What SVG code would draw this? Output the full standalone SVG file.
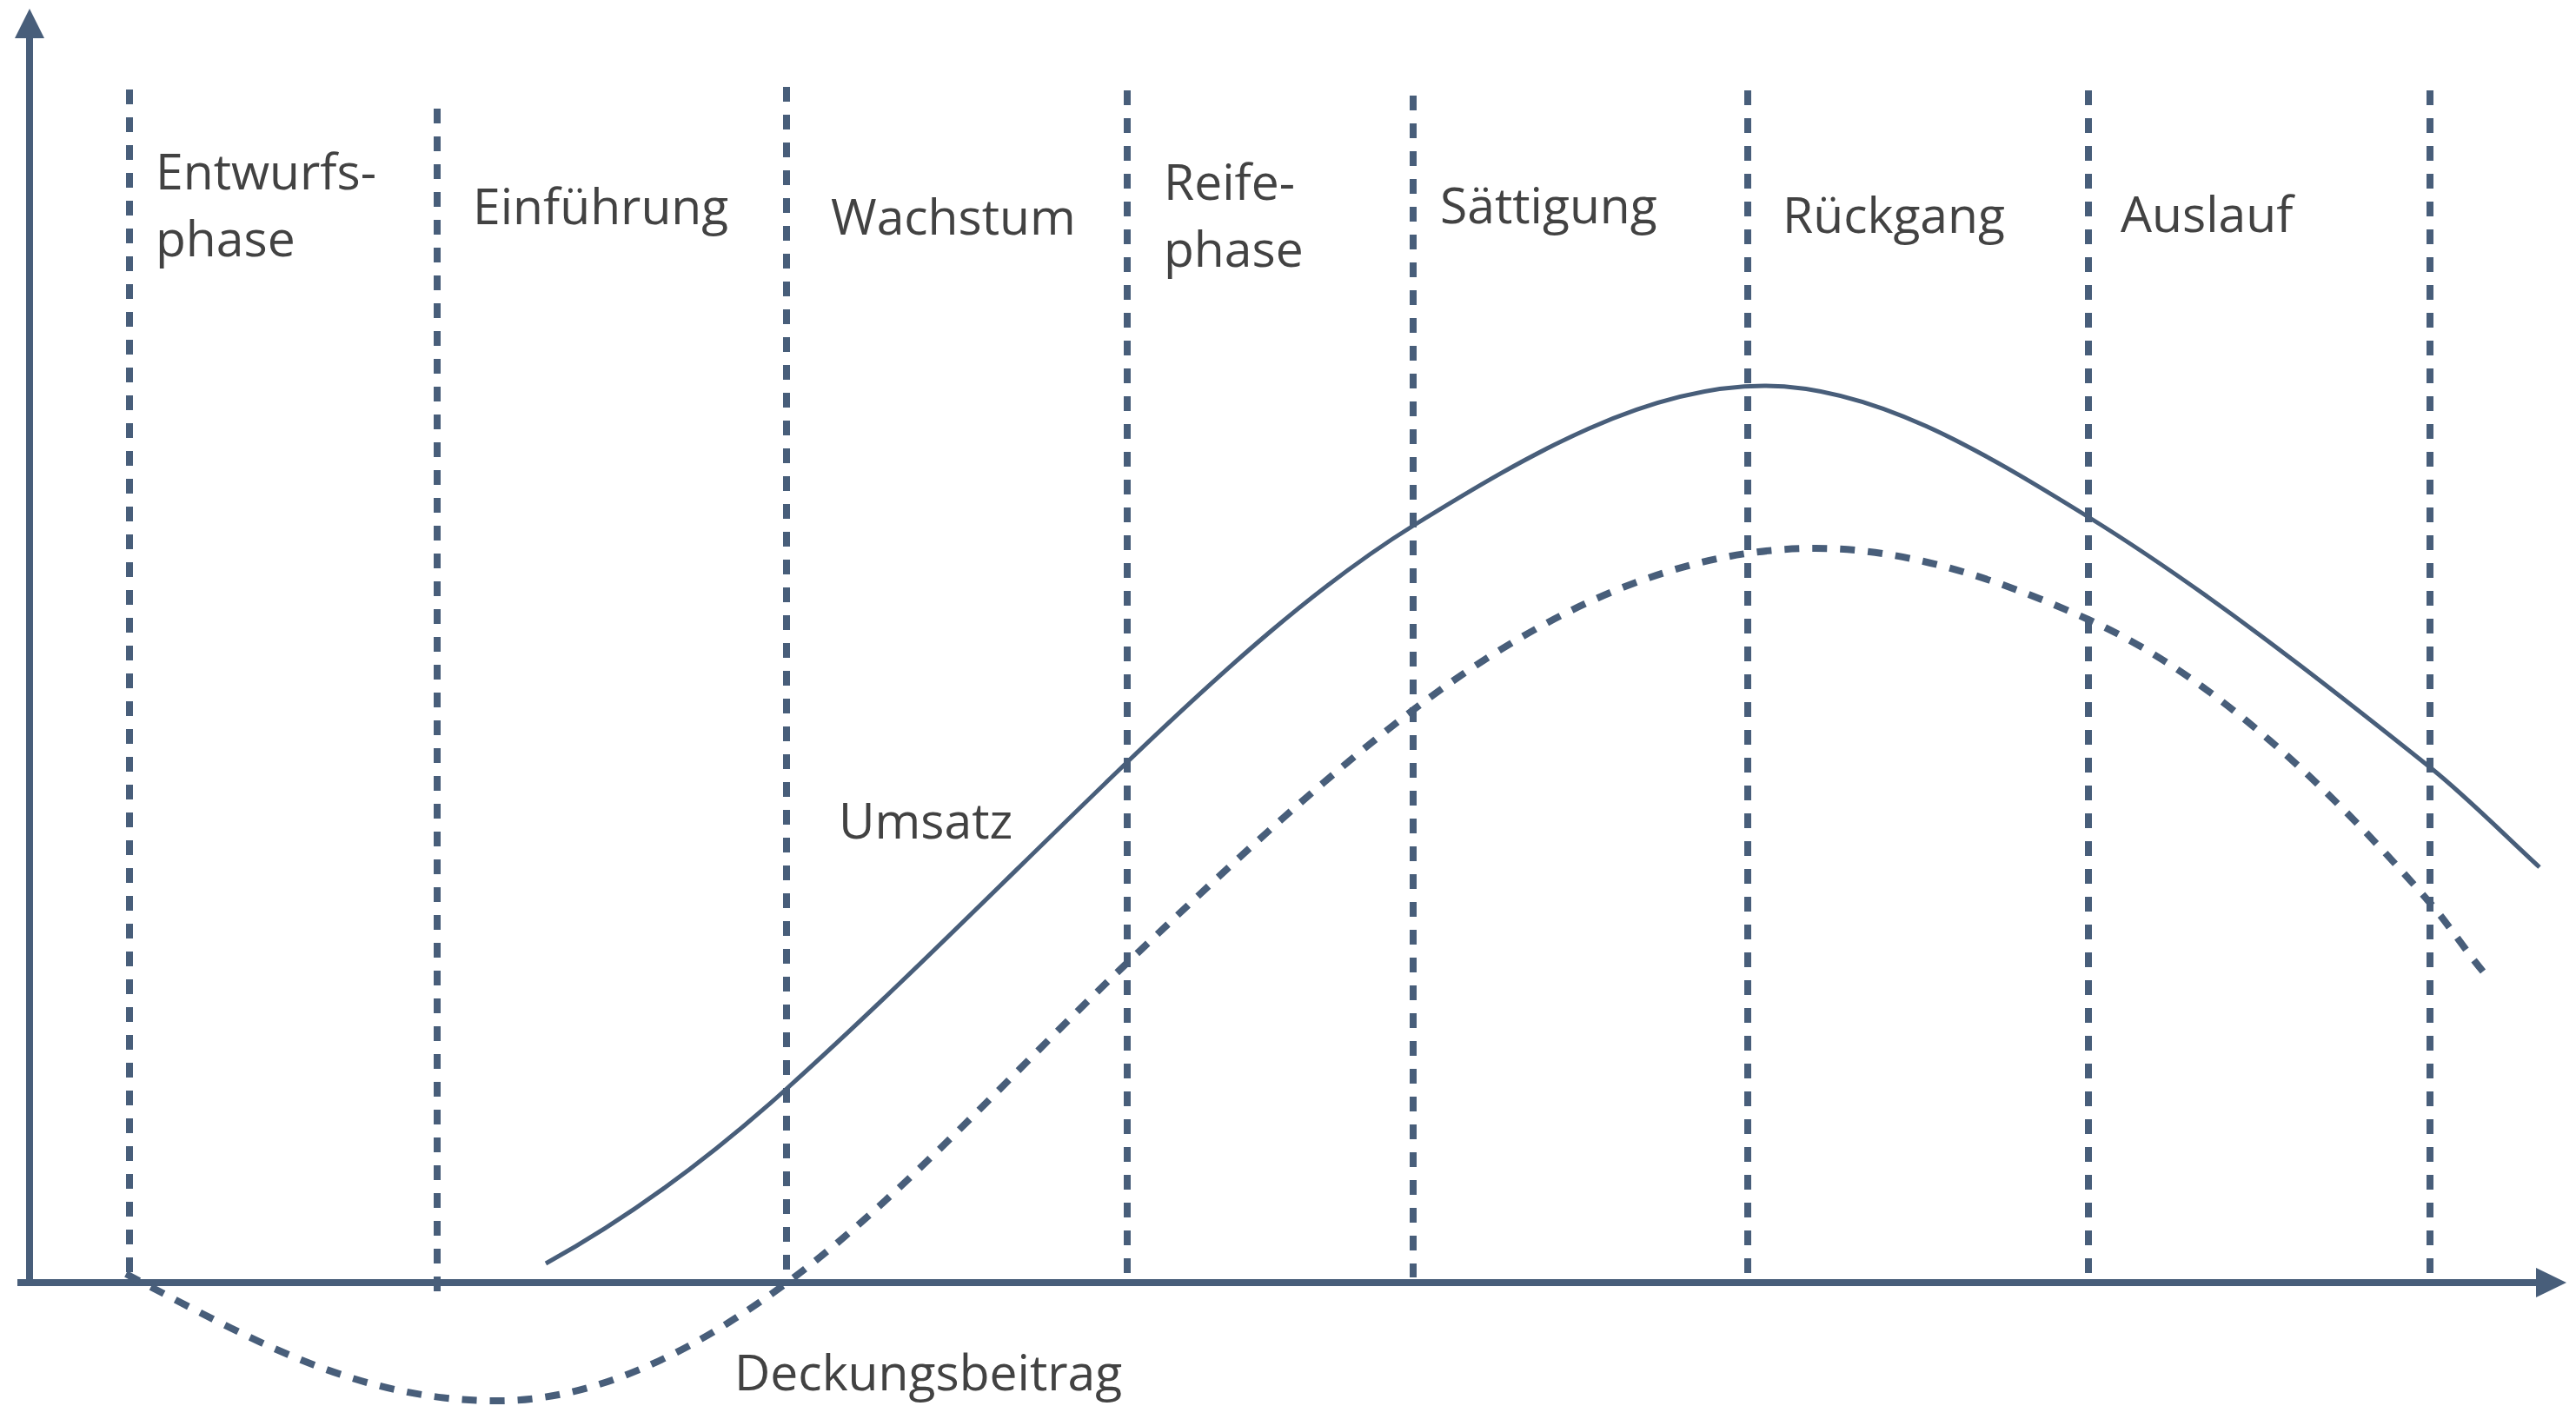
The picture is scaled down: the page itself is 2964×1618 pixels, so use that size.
<svg xmlns="http://www.w3.org/2000/svg" width="2964" height="1618" viewBox="0 0 2964 1618">
<style>
.axis{stroke:#485e7a;stroke-width:8;fill:none}
.head{fill:#485e7a}
.phase{stroke:#485e7a;stroke-width:8;fill:none;stroke-dasharray:17 15}
.solid{stroke:#485e7a;stroke-width:5;fill:none}
.dash{stroke:#485e7a;stroke-width:8;fill:none;stroke-dasharray:17 15}
.lbl{font-family:"Open Sans","Noto Sans",sans-serif;font-size:57px;fill:#424242}
</style>
<rect width="2964" height="1618" fill="#ffffff"/>
<g id="connectors">
  <g id="phase-lines">
    <line class="phase" x1="149" y1="103" x2="149" y2="1466"/>
    <line class="phase" x1="503" y1="125" x2="503" y2="1486"/>
    <line class="phase" x1="905" y1="100" x2="905" y2="1470"/>
    <line class="phase" x1="1297" y1="104" x2="1297" y2="1470"/>
    <line class="phase" x1="1626" y1="110" x2="1626" y2="1470"/>
    <line class="phase" x1="2011" y1="104" x2="2011" y2="1470"/>
    <line class="phase" x1="2403" y1="104" x2="2403" y2="1470"/>
    <line class="phase" x1="2796" y1="104" x2="2796" y2="1470"/>
  </g>
  <g id="axes">
    <line class="axis" x1="34" y1="40" x2="34" y2="1480"/>
    <polygon class="head" points="34,10 51,44 17,44"/>
    <line class="axis" x1="20" y1="1476" x2="2922" y2="1476"/>
    <polygon class="head" points="2953,1476 2918,1459 2918,1493"/>
  </g>
  <path id="umsatz-curve" class="solid" d="M628,1454 C720.3,1403.2 812.7,1336.1 905,1253 C1035.7,1135.4 1166.3,1002.5 1297,877 C1406.7,771.7 1516.3,673 1626,605 C1760.7,521.5 1895.3,444 2030,444 C2154.3,444 2278.7,517.9 2403,595 C2534,676.2 2665,778.2 2796,883 C2838,916.6 2880,959.4 2922,998"/>
  <path id="deckung-curve" class="dash" d="M145,1466 C287.3,1540 410,1612 572,1612 C683.7,1612 795.3,1557.7 907,1475 C1037,1378.8 1167,1231.5 1297,1108 C1406.7,1003.8 1516.3,900.4 1626,817 C1780.3,699.7 1934.7,631 2089,631 C2193.7,631 2298.3,665.9 2403,713 C2534,772 2665,888.4 2796,1039 C2816.3,1062.4 2836.7,1093.6 2857,1118"/>
</g>
<g id="label-entwurfsphase"><text class="lbl" x="179" y="218">Entwurfs-</text><text class="lbl" x="179" y="295">phase</text></g>
<g id="label-einfuehrung"><text class="lbl" x="544" y="258">Einführung</text></g>
<g id="label-wachstum"><text class="lbl" x="956" y="270">Wachstum</text></g>
<g id="label-reifephase"><text class="lbl" x="1339" y="230">Reife-</text><text class="lbl" x="1339" y="307">phase</text></g>
<g id="label-saettigung"><text class="lbl" x="1657" y="257">Sättigung</text></g>
<g id="label-rueckgang"><text class="lbl" x="2051" y="268">Rückgang</text></g>
<g id="label-auslauf"><text class="lbl" x="2440" y="267">Auslauf</text></g>
<g id="label-umsatz"><text class="lbl" x="965" y="965">Umsatz</text></g>
<g id="label-deckungsbeitrag"><text class="lbl" x="845" y="1600">Deckungsbeitrag</text></g>
</svg>
